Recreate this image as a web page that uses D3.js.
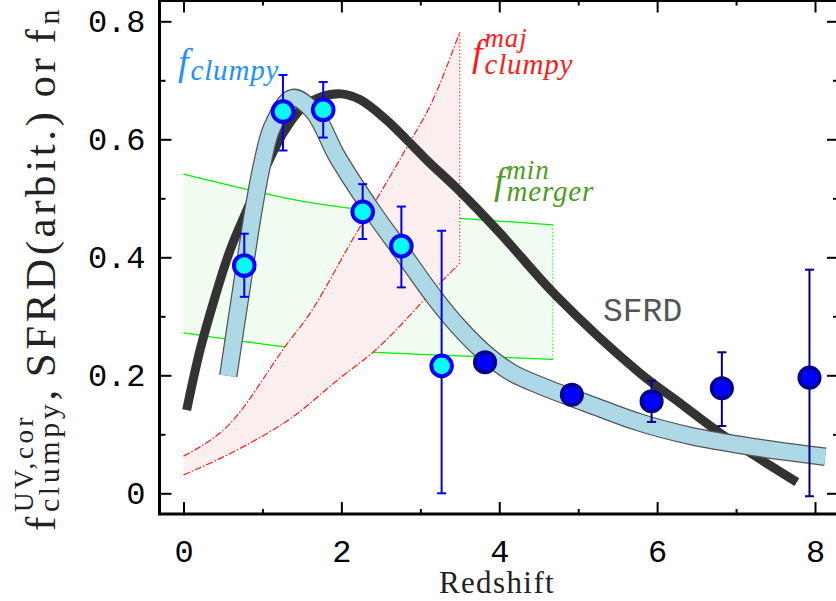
<!DOCTYPE html>
<html>
<head>
<meta charset="utf-8">
<script src="https://cdn.jsdelivr.net/npm/d3@7"></script>
<style>
  html, body { margin: 0; padding: 0; background: #fff; }
  svg { display: block; }
</style>
</head>
<body>
<svg id="chart" width="836" height="601"></svg>
<script>
// Clumpy fraction measurements (cyan points)
const clumpyZ  = [0.77, 1.26, 1.77, 2.27, 2.76, 3.27];
const clumpyF  = [0.386, 0.647, 0.650, 0.477, 0.419, 0.216];
const clumpyLo = [0.333, 0.581, 0.603, 0.431, 0.349, 0.000];
const clumpyHi = [0.440, 0.709, 0.697, 0.524, 0.486, 0.445];

// High-redshift measurements (blue points)
const highzZ  = [3.82, 4.92, 5.93, 6.82, 7.93];
const highzF  = [0.222, 0.167, 0.156, 0.178, 0.196];
const highzLo = [null, null, 0.121, 0.114, -0.005];
const highzHi = [null, null, 0.191, 0.239, 0.379];

// Cosmic star-formation rate density (arbitrary normalisation)
const sfrdZ = [0.04, 0.21, 0.40, 0.59, 0.82, 1.00, 1.26, 1.50, 1.75, 2.00, 2.24, 2.57, 2.83, 3.08, 3.50, 4.01, 4.72, 5.78, 6.29, 6.80, 7.77];
const sfrdV = [0.141, 0.243, 0.333, 0.412, 0.485, 0.540, 0.610, 0.653, 0.672, 0.677, 0.667, 0.633, 0.599, 0.565, 0.512, 0.441, 0.335, 0.204, 0.153, 0.102, 0.019];

// Smooth trend of the clumpy fraction (light-blue band)
const bandZ = [0.567, 0.745, 0.893, 1.00, 1.125, 1.38, 1.64, 1.95, 2.40, 2.76, 3.19, 3.50, 3.80, 4.15, 4.55, 5.20, 5.78, 6.40, 7.05, 7.60, 8.13];
const bandV = [0.199, 0.357, 0.485, 0.560, 0.621, 0.670, 0.648, 0.570, 0.477, 0.410, 0.330, 0.280, 0.240, 0.205, 0.181, 0.148, 0.120, 0.098, 0.082, 0.071, 0.062];

// Minimum merger fraction envelope (green)
const mergerZ  = [0.00, 0.84, 1.31, 2.24, 3.50, 4.68];
const mergerLo = [0.272, 0.256, 0.248, 0.240, 0.233, 0.227];
const mergerHi = [0.541, 0.514, 0.500, 0.481, 0.466, 0.455];

// Major-merger-induced clumpy fraction envelope (red)
const majZ   = [0.00, 0.55, 1.35, 1.54, 2.15, 2.81, 3.16, 3.50];
const majHi  = [0.063, 0.113, 0.260, 0.293, 0.432, 0.582, 0.667, 0.782];
const majLoZ = [0.00, 0.70, 1.39, 1.98, 2.40, 3.27, 3.50];
const majLo  = [0.031, 0.075, 0.130, 0.195, 0.239, 0.359, 0.390];

// Axis ticks
const xMajor = [0, 2, 4, 6, 8];
const xMinor = [1, 3, 5, 7];
const yMajor = [0, 0.2, 0.4, 0.6, 0.8];
const yMinor = [0.1, 0.3, 0.5, 0.7];

const svg = d3.select("#chart");
const frame = { left: 159.5, right: 838, top: 0.5, bottom: 514 };

const x = d3.scaleLinear().domain([0, 8]).range([183.5, 815]);
const y = d3.scaleLinear().domain([0, 0.8]).range([493.3, 21.3]);

const pairs = (zs, vs) => zs.map((z, i) => [z, vs[i]]);
const smooth = d3.line().x(d => x(d[0])).y(d => y(d[1])).curve(d3.curveCatmullRom.alpha(0.5));
const mono = d3.line().x(d => x(d[0])).y(d => y(d[1])).curve(d3.curveMonotoneX);

const plot = svg.append("g");

// --- merger envelope (green) ---
const mergerArea = d3.area()
  .x((d, i) => x(mergerZ[i]))
  .y0((d, i) => y(mergerLo[i]))
  .y1((d, i) => y(mergerHi[i]))
  .curve(d3.curveMonotoneX);
plot.append("path").datum(mergerZ).attr("d", mergerArea).attr("fill", "#f1fdf1");
plot.append("path").attr("d", mono(pairs(mergerZ, mergerHi))).attr("fill", "none").attr("stroke", "#00ee00").attr("stroke-width", 1.3);
plot.append("path").attr("d", mono(pairs(mergerZ, mergerLo))).attr("fill", "none").attr("stroke", "#00ee00").attr("stroke-width", 1.3);
const mzEnd = mergerZ[mergerZ.length - 1];
plot.append("line")
  .attr("x1", x(mzEnd)).attr("x2", x(mzEnd))
  .attr("y1", y(mergerHi[mergerHi.length - 1])).attr("y2", y(mergerLo[mergerLo.length - 1]))
  .attr("stroke", "#22ee22").attr("stroke-width", 1.1).attr("stroke-dasharray", "1.5,2");

// --- major-merger clumpy envelope (red) ---
const hiD = mono(pairs(majZ, majHi));
const loD = mono(pairs(majLoZ, majLo));
const majEnd = majZ[majZ.length - 1];
plot.append("clipPath").attr("id", "majClip")
  .append("path").attr("d", hiD + "L" + x(majEnd) + "," + y(0) + "L" + x(0) + "," + y(0) + "Z");
plot.append("path")
  .attr("d", loD + "L" + x(majEnd) + "," + y(0.85) + "L" + x(0) + "," + y(0.85) + "Z")
  .attr("fill", "#fdefef").attr("clip-path", "url(#majClip)");
plot.append("path").attr("d", hiD).attr("fill", "none").attr("stroke", "#ff1a1a").attr("stroke-width", 1.2).attr("stroke-dasharray", "7,2,1.5,2");
plot.append("path").attr("d", loD).attr("fill", "none").attr("stroke", "#ff1a1a").attr("stroke-width", 1.2).attr("stroke-dasharray", "7,2,1.5,2");
plot.append("line")
  .attr("x1", x(majEnd)).attr("x2", x(majEnd))
  .attr("y1", y(majHi[majHi.length - 1])).attr("y2", y(majLo[majLo.length - 1]))
  .attr("stroke", "#ff3333").attr("stroke-width", 1.1).attr("stroke-dasharray", "1.5,2");

// --- SFRD curve ---
plot.append("path").attr("d", smooth(pairs(sfrdZ, sfrdV)))
  .attr("fill", "none").attr("stroke", "#333333").attr("stroke-width", 9).attr("stroke-linecap", "butt");

// --- clumpy-fraction trend band ---
const bandD = smooth(pairs(bandZ, bandV));
plot.append("path").attr("d", bandD).attr("fill", "none").attr("stroke", "#555555").attr("stroke-width", 18.5).attr("stroke-linecap", "butt");
plot.append("path").attr("d", bandD).attr("fill", "none").attr("stroke", "#add8e6").attr("stroke-width", 16).attr("stroke-linecap", "butt");

// --- error bars and points ---
function errorBars(zs, lo, hi, color) {
  const g = plot.append("g").attr("stroke", color).attr("stroke-width", 2).attr("fill", "none");
  zs.forEach((z, i) => {
    if (lo[i] == null) return;
    const cx = x(z);
    g.append("line").attr("x1", cx).attr("x2", cx).attr("y1", y(lo[i])).attr("y2", y(hi[i]));
    g.append("line").attr("x1", cx - 4.5).attr("x2", cx + 4.5).attr("y1", y(lo[i])).attr("y2", y(lo[i]));
    g.append("line").attr("x1", cx - 4.5).attr("x2", cx + 4.5).attr("y1", y(hi[i])).attr("y2", y(hi[i]));
  });
}
errorBars(clumpyZ, clumpyLo, clumpyHi, "#0000ee");
errorBars(highzZ, highzLo, highzHi, "#00008b");

plot.append("g").selectAll("circle").data(clumpyZ).join("circle")
  .attr("cx", d => x(d)).attr("cy", (d, i) => y(clumpyF[i])).attr("r", 10.3)
  .attr("fill", "#00ffff").attr("stroke", "#0000ff").attr("stroke-width", 4);
plot.append("g").selectAll("circle").data(highzZ).join("circle")
  .attr("cx", d => x(d)).attr("cy", (d, i) => y(highzF[i])).attr("r", 10.3)
  .attr("fill", "#0000ff").attr("stroke", "#00008b").attr("stroke-width", 3.5);

// --- frame and ticks ---
const tickFont = "'Liberation Mono', 'DejaVu Sans Mono', monospace";
function styleAxis(g) {
  g.select(".domain").remove();
  g.selectAll(".tick line").attr("stroke", "#000").attr("stroke-width", 2);
  g.selectAll("text").attr("font-family", tickFont).attr("font-size", 32).attr("fill", "#000");
}
const fmtY = d => d === 0 ? "0" : d.toFixed(1);

svg.append("g").attr("transform", `translate(0,${frame.bottom})`)
  .call(d3.axisBottom(x).tickValues(xMajor).tickSizeInner(-12).tickSizeOuter(0).tickPadding(25).tickFormat(d3.format("d")))
  .call(styleAxis);
svg.append("g").attr("transform", `translate(0,${frame.bottom})`)
  .call(d3.axisBottom(x).tickValues(xMinor).tickSizeInner(-5).tickSizeOuter(0).tickFormat(""))
  .call(styleAxis);
svg.append("g").attr("transform", `translate(0,${frame.top})`)
  .call(d3.axisTop(x).tickValues(xMajor).tickSizeInner(-12).tickSizeOuter(0).tickFormat(""))
  .call(styleAxis);
svg.append("g").attr("transform", `translate(0,${frame.top})`)
  .call(d3.axisTop(x).tickValues(xMinor).tickSizeInner(-5).tickSizeOuter(0).tickFormat(""))
  .call(styleAxis);
svg.append("g").attr("transform", `translate(${frame.left},0)`)
  .call(d3.axisLeft(y).tickValues(yMajor).tickSizeInner(-12).tickSizeOuter(0).tickPadding(14).tickFormat(fmtY))
  .call(styleAxis);
svg.append("g").attr("transform", `translate(${frame.left},0)`)
  .call(d3.axisLeft(y).tickValues(yMinor).tickSizeInner(-6).tickSizeOuter(0).tickFormat(""))
  .call(styleAxis);
svg.append("g").attr("transform", `translate(${frame.right},0)`)
  .call(d3.axisRight(y).tickValues(yMajor).tickSizeInner(-11).tickSizeOuter(0).tickFormat(""))
  .call(styleAxis);
svg.append("g").attr("transform", `translate(${frame.right},0)`)
  .call(d3.axisRight(y).tickValues(yMinor).tickSizeInner(-5).tickSizeOuter(0).tickFormat(""))
  .call(styleAxis);

svg.append("rect")
  .attr("x", frame.left).attr("y", frame.top)
  .attr("width", frame.right - frame.left).attr("height", frame.bottom - frame.top)
  .attr("fill", "none").attr("stroke", "#000").attr("stroke-width", 3);

// --- axis titles ---
const serif = "'Liberation Serif', 'DejaVu Serif', serif";
svg.append("text").attr("x", 497).attr("y", 593).attr("text-anchor", "middle")
  .attr("font-family", serif).attr("font-size", 31).attr("letter-spacing", 1.4)
  .attr("fill", "#222").text("Redshift");

function piece(g, t, size, by, px, style, ls) {
  const el = g.append("text").attr("x", px).attr("y", by).attr("font-size", size).text(t);
  if (style) el.attr("font-style", style);
  if (ls) el.attr("letter-spacing", ls);
  return el.node().getComputedTextLength();
}

// rotated y title: f^{UV,cor}_{clumpy}, SFRD(arbit.) or f_n
// laid out once, then re-laid with letter spacing so it spans the full plot height
const yTitleSpan = 525;
function buildYTitle(ls) {
  const g = svg.append("g").attr("transform", "translate(55,531) rotate(-90)")
    .attr("font-family", serif).attr("fill", "#222");
  let cx = 0, n = 0;
  const add = (t, size, by, gap) => { const w = piece(g, t, size, by, cx, null, ls); cx += w + gap; n += t.length; };
  add("f", 43, 0, 1);
  const a = piece(g, "UV,cor", 27, -22, cx, null, ls);
  const b = piece(g, "clumpy", 30, 4, cx, null, ls);
  cx += Math.max(a, b); n += 6;
  add(",", 43, 0, 9);
  add("SFRD(arbit.)", 43, 0, 11);
  add("or", 43, 0, 11);
  add("f", 43, 0, 1);
  add("n", 30, 4, 0);
  return { g, width: cx, n };
}
let yTitle = buildYTitle(0);
const extra = (yTitleSpan - yTitle.width) / yTitle.n;
yTitle.g.remove();
yTitle = buildYTitle(Math.max(0, extra));

// --- in-plot labels ---
function mathLabel(px, py, color, sup, sub, supDy, subDy) {
  const g = svg.append("g").attr("font-family", serif).attr("fill", color);
  const fw = piece(g, "f", 38, py, px, "italic");
  const sx = px + fw + 2;
  if (sup) piece(g, sup, 27, py + supDy, sx, "italic", 0.8);
  if (sub) piece(g, sub, 29, py + subDy, sx, "italic", 0.8);
}
mathLabel(178, 75, "#1e90ff", null, "clumpy", 0, 5);
mathLabel(472, 66, "#ff1a1a", "maj", "clumpy", -19, 8);
mathLabel(494, 194, "#4f9a24", "min", "merger", -15, 7);

svg.append("text").attr("x", 603).attr("y", 321)
  .attr("font-family", tickFont).attr("font-size", 33).attr("fill", "#555").text("SFRD");
</script>
</body>
</html>
